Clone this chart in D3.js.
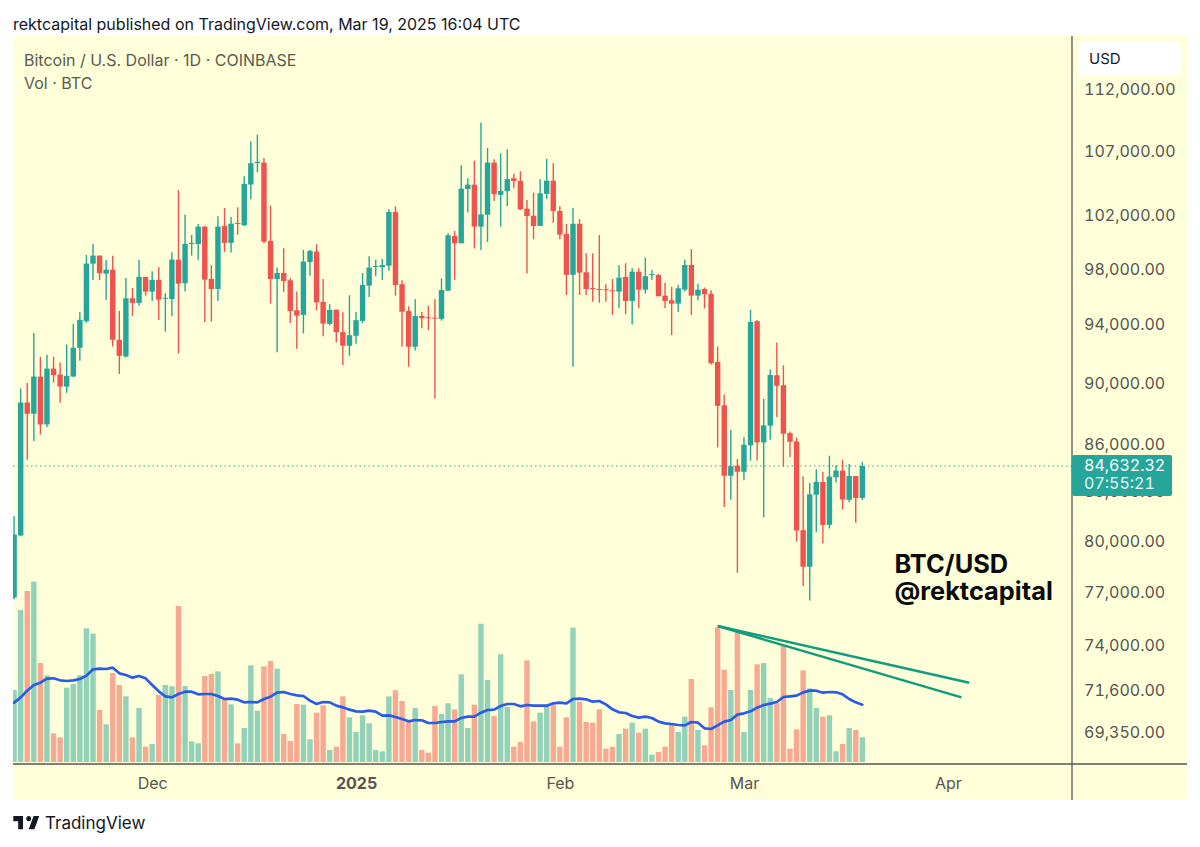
<!DOCTYPE html>
<html>
<head>
<meta charset="utf-8">
<script src="https://cdn.jsdelivr.net/npm/d3@7"></script>
<style>
  html, body { margin: 0; background: #fff; }
  svg { display: block; font-family: Inter, "Noto Sans", sans-serif; }
  .tick text { fill: #555; }
  .nums { font-variant-numeric: tabular-nums; }
</style>
</head>
<body>
<svg id="chart" width="1200" height="847"></svg>
<script>
// daily candles, Nov 10 2024 -> Mar 19 2025
let opens = [76670,80290,88660,87920,90390,87220,90930,90525,89720,90390,92350,94200,98330,98920,97600,97890,92900,91750,95820,95490,
  97360,96300,97140,95790,95770,98620,96900,99780,99780,101080,97210,96490,101130,99860,101350,101180,104300,105990,106020,100010,
  97210,97650,97120,94970,94640,98450,99220,95560,94010,95010,93430,92490,93180,94220,96730,98090,98070,98180,102190,96830,
  94920,92420,94570,94480,94450,94360,96370,100380,99830,103960,104290,101080,101980,106020,103500,103800,104790,104590,102440,101900,
  101130,103570,104600,102260,100530,97510,101300,97700,96560,96490,96470,96400,96300,97360,95630,97740,96440,97490,97500,96010,
  95680,95440,96440,98230,96010,96490,96150,91380,88470,83950,84580,84200,85870,94200,86060,87140,90480,89810,86660,86120,
  80610,78440,82770,83560,80930,83850,84270,82450,83930,82570]
let highs = [81450,89590,89950,93380,91730,91865,91730,91335,92575,94010,94850,98970,99780,98920,98600,98900,94920,97290,96560,98620,
  97360,97775,98070,96180,99170,103880,101980,100450,101280,101130,98230,101860,102490,101810,102545,104950,107715,108250,106390,102670,
  98040,99470,97265,96300,99340,99360,99760,97210,95400,95010,94830,96040,94850,97650,98870,98620,98670,102390,102620,97120,
  95250,95750,94850,95290,95750,97260,100580,100750,105810,104790,106170,109220,107180,106290,106760,107080,105150,105340,103110,103670,
  104710,106330,105970,102620,101280,102490,101650,99100,99100,100450,96830,97210,98230,98360,97990,97990,98770,97890,97580,96930,
  96640,96780,98620,99410,96870,96590,96400,92440,89170,86880,85000,86420,94990,94290,88890,90860,92710,91160,86770,86380,
  83910,83490,84350,84180,85210,84600,84960,84690,83930,84810]
let lows = [76560,80250,84960,86150,86570,87055,89990,88640,89300,90370,91470,94080,97140,97140,95700,92440,90570,91680,94570,95295,
  96010,95630,94290,93470,94550,91955,96300,98920,98620,94130,94170,95630,99190,99140,100480,101130,103165,105260,99840,95440,
  92050,96280,94080,92280,93340,97450,94970,93150,93890,92740,91180,91800,92620,94080,95920,97410,97140,97800,96010,92420,
  91060,92160,93710,93570,88930,94240,96330,97140,99830,102140,99440,99340,99930,103030,101080,102650,104010,102340,97600,100130,
  101130,103190,101380,100130,96060,91060,96060,96060,95580,95510,95580,94640,95130,94710,93960,95110,96160,97140,95970,95110,
  93220,94850,96300,94640,95680,95110,91200,85740,82020,82470,78090,83660,84900,84900,81390,86230,87700,84540,85110,79930,
  77320,76490,80490,79810,80710,83530,81860,82300,81050,82450]
let closes = [80350,88660,87920,90390,87220,90930,90485,89720,90440,92350,94290,98330,98920,97630,97890,92900,91800,95820,95490,97360,
  96300,97140,95720,95860,98620,96875,99780,99860,101080,97160,96490,101080,99860,101300,101280,104350,105970,106070,99950,97210,
  97650,97070,94920,94590,98480,99270,95530,94030,94990,93430,92490,93220,94270,96780,98040,98160,98230,102190,96780,94870,
  92420,94570,94410,94410,94380,96420,100430,99830,103980,104290,101080,102010,106020,103550,103800,104720,104580,102390,101880,101130,
  103620,104600,102260,100480,97510,101300,97670,96490,96490,96420,96400,96330,97310,95630,97740,96440,97410,97560,95970,95630,
  95440,96540,98230,96010,96440,96110,91290,88440,83950,84540,84200,85910,94150,86060,87160,90500,89770,86620,86100,80590,
  78440,82790,83560,80930,83890,84270,82470,83930,82570,84560]

let volumes = [21600,45600,51300,54100,29700,26000,8600,7400,22300,23400,26000,40100,38500,15600,11300,26700,23100,19700,7400,16200,
  4600,5400,20100,23100,22700,46800,22800,6200,5600,25800,26400,27200,18600,17300,5600,10200,29000,15400,28700,30300,
  28000,8400,6300,17400,17200,6800,14800,17000,3600,4600,19700,13400,9000,14000,11600,3600,3200,19700,21500,18300,
  12600,16200,3600,2800,16800,14400,17600,15800,26300,10200,17200,41500,24600,13800,32300,16500,4600,6000,30500,12200,
  14800,16800,17200,4600,13400,40300,18100,12000,11800,15800,4000,4600,8400,10000,11800,8800,10000,2200,3000,4600,
  11400,9000,13600,24900,9600,5000,16400,40400,27700,21600,39600,9000,21600,29300,29700,19200,17600,34800,4000,9800,
  27500,22100,16200,13600,14000,3200,5400,10200,9600,7400]
let volumeMA = [17800,19400,21400,23100,23800,25000,25100,24500,24300,24500,24900,25900,27800,28000,27900,28300,26600,26100,25300,25800,
  25100,23100,21200,19700,19400,20400,21100,21100,20300,20400,20400,19800,18900,19000,18700,17900,18000,17900,18900,19600,
  20800,21000,20400,20000,19800,18400,17400,18000,17900,16900,16400,15700,15200,15100,15400,15100,13900,14000,13500,12900,
  12200,12600,12500,11700,11700,12000,12200,12200,13200,13600,13600,14800,15600,15700,16800,17400,17400,16700,17100,16900,
  16900,16900,17600,17800,17600,18900,19000,18800,18100,18300,17300,15800,14900,14700,13800,13300,13600,13200,12100,11600,
  11400,11100,11000,12000,11800,10100,9900,11000,12100,12600,14200,14600,15200,16300,17100,17500,18000,19500,19700,19900,
  20900,21400,21400,20800,21000,20900,20300,18900,17900,17200]

let priceTicks = [112000,107000,102000,98000,94000,90000,86000,83000,80000,77000,74000,71600,69350]
let timeTicks = ["2024-12-01","2025-01-01","2025-02-01","2025-03-01","2025-04-01"]
let lastPrice = 84632.32
let countdown = "07:55:21"

// the two volume trend lines: [date, volume]
let trendStart = ["2025-02-25", 40800]
let trendEnds = [["2025-04-04T06:00:00Z", 23800], ["2025-04-03T02:00:00Z", 19400]]

let up = "#26a69a", down = "#ef5350", lineGreen = "#0f9d7e", maBlue = "#2a5be8"
let cream = "#ffffd9", axisGrey = "#555", textGrey = "#5a5a52"

let paneLeft = 13, axisX = 1072, paneRight = 1187, paneTop = 36, paneBottom = 764, frameBottom = 800

let svg = d3.select("#chart")
let parse = d3.isoParse
let firstDay = parse("2024-11-10")
let dates = opens.map((d, i) => d3.utcDay.offset(firstDay, i))

let x = d3.scaleUtc()
    .domain([firstDay, parse("2025-04-01")])
    .range([14.1, 947.8])

let y = d3.scaleLog()
    .domain([112000, 69350])
    .range([89, 732])

let yVol = d3.scaleLinear()
    .domain([0, 57600])
    .range([762, 570])

// background
svg.append("rect")
    .attr("x", paneLeft).attr("y", paneTop)
    .attr("width", paneRight - paneLeft).attr("height", frameBottom - paneTop)
    .attr("fill", cream)

svg.append("defs").append("clipPath").attr("id", "pane")
    .append("rect")
    .attr("x", paneLeft).attr("y", paneTop)
    .attr("width", axisX - paneLeft).attr("height", paneBottom - paneTop)

let pane = svg.append("g").attr("clip-path", "url(#pane)")

let candleColor = i => closes[i] >= opens[i] ? up : down

// volume bars
pane.append("g").selectAll("rect")
    .data(volumes)
    .enter()
    .append("rect")
    .attr("x", (d, i) => x(dates[i]) - 2.7)
    .attr("width", 5.4)
    .attr("y", d => yVol(d))
    .attr("height", d => yVol(0) - yVol(d))
    .attr("fill", (d, i) => candleColor(i))
    .attr("fill-opacity", 0.5)

// last price line, nudged to sit on the label like the axis text does
pane.append("line")
    .attr("x1", paneLeft).attr("x2", axisX)
    .attr("y1", y(lastPrice) + 1.2).attr("y2", y(lastPrice) + 1.2)
    .attr("stroke", up)
    .attr("stroke-width", 1)
    .attr("stroke-dasharray", "1.5 3")

// wicks
pane.append("g").selectAll("line")
    .data(dates)
    .enter()
    .append("line")
    .attr("x1", d => x(d)).attr("x2", d => x(d))
    .attr("y1", (d, i) => y(highs[i]))
    .attr("y2", (d, i) => y(lows[i]))
    .attr("stroke", (d, i) => candleColor(i))
    .attr("stroke-width", 1.4)

// bodies
pane.append("g").selectAll("rect")
    .data(dates)
    .enter()
    .append("rect")
    .attr("x", d => x(d) - 2.7)
    .attr("width", 5.4)
    .attr("y", (d, i) => y(Math.max(opens[i], closes[i])))
    .attr("height", (d, i) => Math.max(1, y(Math.min(opens[i], closes[i])) - y(Math.max(opens[i], closes[i]))))
    .attr("fill", (d, i) => candleColor(i))

// volume average
let maLine = d3.line()
    .x((d, i) => x(dates[i]))
    .y(d => yVol(d))

pane.append("path")
    .attr("d", maLine(volumeMA))
    .attr("fill", "none")
    .attr("stroke", maBlue)
    .attr("stroke-width", 2.7)
    .attr("stroke-linejoin", "round")
    .attr("stroke-linecap", "round")

// trend lines
pane.append("g").selectAll("line")
    .data(trendEnds)
    .enter()
    .append("line")
    .attr("x1", x(parse(trendStart[0])))
    .attr("y1", yVol(trendStart[1]))
    .attr("x2", d => x(parse(d[0])))
    .attr("y2", d => yVol(d[1]))
    .attr("stroke", lineGreen)
    .attr("stroke-width", 2.5)

// axes
let priceAxis = d3.axisRight(y)
    .tickValues(priceTicks)
    .tickSize(0)
    .tickPadding(12)
    .tickFormat(d3.format(",.2f"))

svg.append("g")
    .attr("transform", "translate(" + axisX + ",0)")
    .call(priceAxis)
    .call(g => g.select(".domain").remove())
    .selectAll("text")
    .attr("class", "nums")
    .attr("dy", "0.37em")
    .attr("font-family", "Inter")
    .attr("font-size", 16)

let timeAxis = d3.axisBottom(x)
    .tickValues(timeTicks.map(parse))
    .tickSize(0)
    .tickPadding(13.5)
    .tickFormat(d => d.getUTCMonth() == 0 ? d.getUTCFullYear() : d3.utcFormat("%b")(d))

svg.append("g")
    .attr("transform", "translate(0," + paneBottom + ")")
    .call(timeAxis)
    .call(g => g.select(".domain").remove())
    .selectAll("text")
    .attr("font-family", "Inter")
    .attr("font-size", 16)
    .attr("font-weight", d => d.getUTCMonth() == 0 ? 700 : 400)

// frame lines
svg.append("line")
    .attr("x1", paneLeft).attr("x2", paneRight)
    .attr("y1", paneBottom).attr("y2", paneBottom)
    .attr("stroke", axisGrey).attr("stroke-width", 1.3)
svg.append("line")
    .attr("x1", axisX).attr("x2", axisX)
    .attr("y1", paneTop).attr("y2", frameBottom)
    .attr("stroke", axisGrey).attr("stroke-width", 1.3)

// last price label
svg.append("rect")
    .attr("x", axisX).attr("y", 455)
    .attr("width", 100).attr("height", 41)
    .attr("rx", 2)
    .attr("fill", up)
svg.append("text")
    .attr("class", "nums")
    .attr("x", axisX + 12).attr("y", 471)
    .attr("fill", "#fff")
    .attr("font-size", 16)
    .text(d3.format(",.2f")(lastPrice))
svg.append("text")
    .attr("class", "nums")
    .attr("x", axisX + 12).attr("y", 489)
    .attr("fill", "#e4f5f2")
    .attr("font-size", 16)
    .text(countdown)

// currency box
svg.append("rect")
    .attr("x", 1077).attr("y", 42)
    .attr("width", 104).attr("height", 34)
    .attr("rx", 5)
    .attr("fill", "#fff")
svg.append("text")
    .attr("x", 1089).attr("y", 64)
    .attr("fill", "#131722")
    .attr("font-size", 15)
    .text("USD")

// header and legend text
svg.append("text")
    .attr("x", 13).attr("y", 29.5)
    .attr("fill", "#131722")
    .attr("font-size", 16)
    .text("rektcapital published on TradingView.com, Mar 19, 2025 16:04 UTC")
svg.append("text")
    .attr("x", 24).attr("y", 65.5)
    .attr("fill", textGrey)
    .attr("font-size", 16)
    .text("Bitcoin / U.S. Dollar · 1D · COINBASE")
svg.append("text")
    .attr("x", 24).attr("y", 88.5)
    .attr("fill", textGrey)
    .attr("font-size", 16)
    .text("Vol · BTC")

// annotation
svg.append("text")
    .attr("x", 894.5).attr("y", 573)
    .attr("fill", "#0b0b0b")
    .attr("font-size", 25.4).attr("font-weight", 700)
    .text("BTC/USD")
svg.append("text")
    .attr("x", 894.5).attr("y", 600)
    .attr("fill", "#0b0b0b")
    .attr("font-size", 25.4).attr("font-weight", 700)
    .text("@rektcapital")

// footer logo
svg.append("path")
    .attr("transform", "translate(11.7,810.7) scale(0.81,0.88)")
    .attr("d", "M14 6H2v6h6v9h6V6zm14 15h-7l6-15h7l-6 15zm-7-9a3 3 0 1 0 0-6 3 3 0 0 0 0 6z")
    .attr("fill", "#131722")
svg.append("text")
    .attr("x", 45).attr("y", 829)
    .attr("fill", "#131722")
    .attr("font-size", 17)
    .text("TradingView")
</script>
</body>
</html>
